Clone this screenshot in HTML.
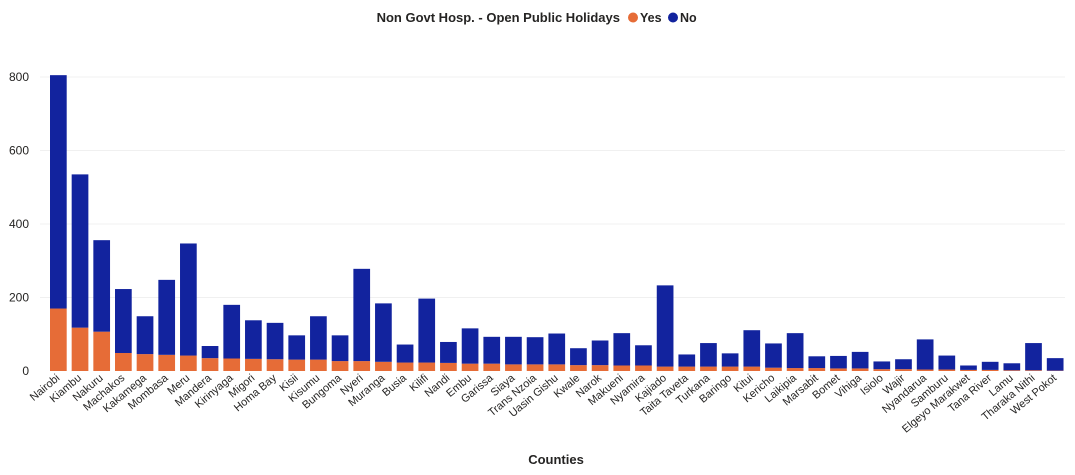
<!DOCTYPE html>
<html><head><meta charset="utf-8"><style>
body{margin:0;background:#fff;font-family:"Liberation Sans",sans-serif;}
svg text{font-family:"Liberation Sans",sans-serif;}
</style></head><body>
<svg id="chart" width="1075" height="470">
<g>
<text x="620" y="22" text-anchor="end" font-size="13" font-weight="bold" fill="#252423">Non Govt Hosp. - Open Public Holidays</text>
<circle cx="633" cy="17.5" r="5" fill="#E66C37"/>
<text x="640" y="22" font-size="12.5" font-weight="bold" fill="#252423">Yes</text>
<circle cx="673" cy="17.5" r="5" fill="#12239E"/>
<text x="680" y="22" font-size="12.5" font-weight="bold" fill="#252423">No</text>
</g>
<g id="grid"></g><g id="bars"></g><g id="xlabels"></g>
<text x="556" y="464" text-anchor="middle" font-size="13" font-weight="bold" fill="#252423">Counties</text>
</svg>
<script>
const categories=["Nairobi","Kiambu","Nakuru","Machakos","Kakamega","Mombasa","Meru","Mandera","Kirinyaga","Migori","Homa Bay","Kisii","Kisumu","Bungoma","Nyeri","Muranga","Busia","Kilifi","Nandi","Embu","Garissa","Siaya","Trans Nzoia","Uasin Gishu","Kwale","Narok","Makueni","Nyamira","Kajiado","Taita Taveta","Turkana","Baringo","Kitui","Kericho","Laikipia","Marsabit","Bomet","Vihiga","Isiolo","Wajir","Nyandarua","Samburu","Elgeyo Marakwet","Tana River","Lamu","Tharaka Nithi","West Pokot"];
const yesValues=[170,118,107,49,46,44,42,35,34,33,32,31,31,27,27,25,23,23,22,20,20,18,18,18,16,16,15,15,12,12,12,12,12,9,8,8,7,7,5,5,4,4,3,3,2,2,1];
const noValues=[635,417,249,174,103,204,305,33,146,105,99,66,118,70,251,159,49,174,57,96,73,75,74,84,46,67,88,55,221,33,64,36,99,66,95,32,34,45,21,27,82,38,12,22,19,74,34];
const yTicks=[0,200,400,600,800];
const NS="http://www.w3.org/2000/svg";
const base=371, pxPer=0.3675, x0=50, step=21.67, bw=16.7;
const y=v=>base-v*pxPer;
const xb=i=>x0+i*step;
function mk(t,a,p){const e=document.createElementNS(NS,t);for(const k in a)e.setAttribute(k,a[k]);p.appendChild(e);return e;}
const grid=document.getElementById('grid'),bars=document.getElementById('bars'),xl=document.getElementById('xlabels');
yTicks.forEach(t=>{
 if(t>0){const l=mk('line',{x1:40,x2:1065,y1:y(t),y2:y(t),stroke:'#f0f0f0','stroke-width':1},grid);
 
 }
 const tx=mk('text',{x:29,y:y(t)+4,'text-anchor':'end','font-size':12,fill:'#252423'},grid);
 tx.textContent=t;
 
 
});
categories.forEach((c,i)=>{
 const x=xb(i);
 const ry=mk('rect',{x:x,y:y(yesValues[i]),width:bw,height:yesValues[i]*pxPer,fill:'#E66C37'},bars);
 
 
 const tot=yesValues[i]+noValues[i];
 const rn=mk('rect',{x:x,y:y(tot),width:bw,height:noValues[i]*pxPer,fill:'#12239E'},bars);
 
 
 const cx=x+bw/2+2;
 const tx=mk('text',{x:cx,y:379,'text-anchor':'end','font-size':11,fill:'#252423',transform:`rotate(-40 ${cx} 379)`},xl);
 tx.textContent=c;
 
 
});
</script>
</body></html>
